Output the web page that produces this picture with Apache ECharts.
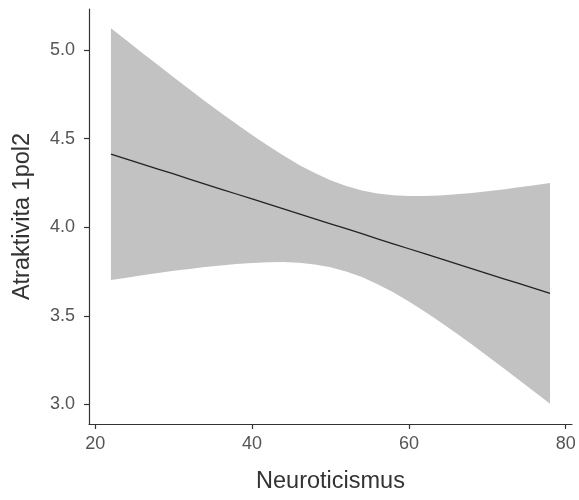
<!DOCTYPE html>
<html>
<head>
<meta charset="utf-8">
<script src="https://cdn.jsdelivr.net/npm/echarts@6/dist/echarts.min.js"></script>
<style>html,body{margin:0;padding:0;background:#fff}#c{width:579px;height:500px}</style>
</head>
<body>
<div id="c"></div>
<script>
var xs = [22,24,26,28,30,32,34,36,38,40,42,44,46,48,50,52,54,56,58,60,62,64,66,68,70,72,74,76,78];
var fitVals = [4.413,4.385,4.357,4.329,4.301,4.272,4.244,4.216,4.188,4.160,4.132,4.104,4.076,4.048,4.020,3.992,3.964,3.935,3.907,3.879,3.851,3.823,3.795,3.767,3.739,3.711,3.683,3.655,3.627];
var upperVals = [5.123,5.054,4.984,4.916,4.847,4.779,4.712,4.647,4.583,4.521,4.461,4.405,4.352,4.306,4.265,4.233,4.208,4.191,4.181,4.177,4.177,4.180,4.186,4.194,4.204,4.214,4.226,4.238,4.250];
var lowerVals = [3.703,3.716,3.730,3.742,3.755,3.765,3.776,3.785,3.793,3.799,3.803,3.804,3.800,3.790,3.775,3.751,3.719,3.679,3.633,3.581,3.525,3.466,3.404,3.340,3.274,3.208,3.140,3.072,3.004];
var xTicks = [20,40,60,80];
var yTicks = [3.0,3.5,4.0,4.5,5.0];
var xTitle = 'Neuroticismus';
var yTitle = 'Atraktivita 1pol2';

var chart = echarts.init(document.getElementById('c'));
var font = 'Liberation Sans, Arial, sans-serif';
var bandData = xs.map(function(x,i){return [x, lowerVals[i], upperVals[i]];});
var fitData = xs.map(function(x,i){return [x, fitVals[i]];});
var axisCommon = {
  axisLine:{show:true,onZero:false,lineStyle:{color:'#333',width:1.2}},
  axisTick:{show:true,length:5,lineStyle:{color:'#333',width:1.2}},
  splitLine:{show:false},
  nameTextStyle:{fontFamily:font,fontSize:23.5,color:'#333'}
};
chart.setOption({
  animation:false,
  grid:{left:89,right:7,top:9,bottom:76,containLabel:false},
  xAxis:Object.assign({}, axisCommon, {
    type:'value', min:19.2, max:80.8,
    name:xTitle, nameLocation:'middle', nameGap:46,
    axisTick:Object.assign({}, axisCommon.axisTick, {customValues:xTicks}),
    axisLabel:{customValues:xTicks, margin:11, fontFamily:font, fontSize:18, color:'#555',
      formatter:function(v){return String(v);}}
  }),
  yAxis:Object.assign({}, axisCommon, {
    type:'value', min:2.89, max:5.232,
    name:yTitle, nameLocation:'middle', nameGap:54,
    axisTick:Object.assign({}, axisCommon.axisTick, {customValues:yTicks}),
    axisLabel:{customValues:yTicks, margin:14, fontFamily:font, fontSize:18, color:'#555',
      formatter:function(v){return v.toFixed(1);}}
  }),
  series:[
    {type:'custom', silent:true, data:[0], z:1,
     renderItem:function(params, api){
       var pts = [];
       for (var i=0;i<bandData.length;i++) pts.push(api.coord([bandData[i][0], bandData[i][2]]));
       for (var j=bandData.length-1;j>=0;j--) pts.push(api.coord([bandData[j][0], bandData[j][1]]));
       return {type:'polygon', shape:{points:pts}, style:{fill:'#c2c2c2', stroke:null}};
     }},
    {type:'line', data:fitData, symbol:'none', silent:true, z:3,
     lineStyle:{color:'#222', width:1.3}}
  ]
});
</script>
</body>
</html>
